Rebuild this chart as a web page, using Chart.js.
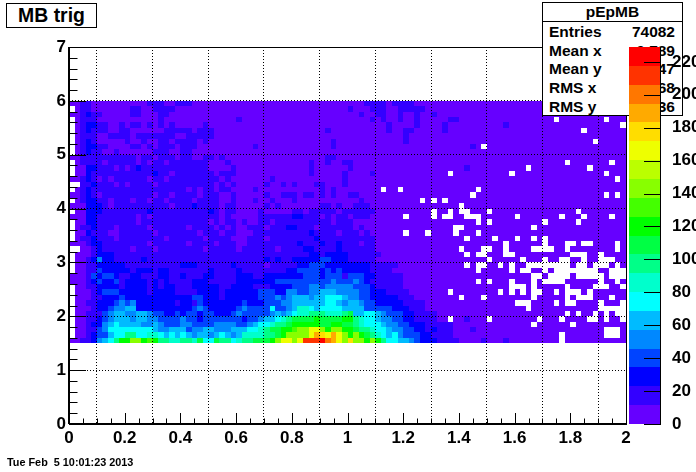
<!DOCTYPE html>
<html lang="en">
<head>
<meta charset="UTF-8" />
<title>pEpMB</title>
<script src="https://cdn.jsdelivr.net/npm/chart.js"></script>
<style>
  html, body { margin: 0; background: #fff; }
  body { width: 696px; height: 472px; position: relative; overflow: hidden; font: bold 15.5px "Liberation Sans", sans-serif; color: #000; }
  canvas { position: absolute; top: 0; }
  .box { position: absolute; background: #fff; border: 1px solid #000; box-sizing: border-box; }
  #title { left: 6px; top: 3px; width: 91px; height: 25px; text-align: center; font-size: 19.4px; line-height: 23px; }
  #stats { left: 542px; top: 2px; width: 141px; height: 114px; }
  #stats .head { text-align: center; height: 18px; line-height: 18px; border-bottom: 1px solid #000; }
  #stats .row { position: absolute; left: 6px; right: 7px; height: 18px; line-height: 18px; display: flex; justify-content: space-between; }
  #stamp { position: absolute; left: 7px; top: 456px; font-size: 10.85px; line-height: 13px; white-space: pre; }
</style>
</head>
<body>
<canvas id="mainChart" width="696" height="472" style="left:0"></canvas>
<div class="box" id="title">MB trig</div>
<div class="box" id="stats">
  <div class="head">pEpMB</div>
  <div class="row" style="top:20px"><span>Entries</span><span>74082</span></div>
  <div class="row" style="top:39px"><span>Mean x</span><span>0.789</span></div>
  <div class="row" style="top:57px"><span>Mean y</span><span>2.747</span></div>
  <div class="row" style="top:76px"><span>RMS x</span><span>0.468</span></div>
  <div class="row" style="top:95px"><span>RMS y</span><span>0.936</span></div>
</div>
<div id="stamp">Tue Feb  5 10:01:23 2013</div>
<canvas id="paletteChart" width="67" height="472" style="left:629px"></canvas>

<script>
// colour level of each bin, bottom row (y 1.5-1.6) first, ten bins per group
// 0-9,a-j index levelColors, a row that stops early is level 0 for the rest
const rowLevels = [
  "001124568a accaba8877 8879669886 788999acee ceiiijhgec fccaca8665 5432221111 0000100010",
  "0001233566 8866776565 6545545654 57777889ac cccegfegec aca9876564 3332211110",
  "0001134666 6666654455 5344554445 55667899aa bcceecacca a988766544 3322121110 001",
  "0001224565 5554454333 4433334444 3345667889 aaaaa99aa9 9876665443 3222111110",
  "0001123455 5455443333 4332333333 3233455678 9999a9999a a876654433 2211110000 01",
  "0001113455 4455433223 2332332223 4333334545 6778887778 9556654333 221111",
  "0000122344 5522222222 2234322222 3433336334 5776566665 5553333322 2111",
  "0001122234 3422222221 2213222222 2322233344 5555556654 5543322222 1111",
  "0000112223 2222222222 2233222122 2222333434 5554556665 4433222221 11",
  "0000123332 2222122221 1112222122 2222333224 4334455544 4433222111 1",
  "0001122221 2222121221 1122222112 2221112222 3334434444 4333211111",
  "0001232231 2222121211 1122211111 2222222333 3333333433 3432111111",
  "0001323321 1221112211 2111221111 2221122222 2233323331 3332211111",
  "0001132222 2122212211 1111121111 2111111112 2333323232 2222111100",
  "0001122222 1111111111 2221111112 1111101111 1223332222 222211111",
  "0001242211 1112111111 1111111111 1111121211 2222233222 11111",
  "0000122211 1111111111 1111111111 1111111111 1112212222 111111",
  "0000121111 1011101111 1111011111 0111111011 1122111121 11111",
  "0001221111 1111011111 1011110111 0011111111 1211121121 11011",
  "0011211101 1111111011 1111011110 0011101111 1111211111 11111",
  "0002111001 1111101111 1110111011 0001111111 1112111101 1101",
  "0011211101 1111011111 1011110101 0011101112 2111011111 101",
  "0002211111 1101111111 1111101011 0100110111 1111111011 1",
  "0002211111 1101011111 1111111010 0000111111 2211101011 0111",
  "0002221111 1111211111 1111121011 0000100000 1101111101 11111",
  "0002221011 1111111101 1121111011 0000010100 0000011010 0111",
  "0012211011 1011011011 1101111001 0001001000 1000000000 001",
  "0012101111 1111101101 1110111001 0000010011 1011010100 11",
  "0012111111 1111111111 1010110110 0001000000 0000010100",
  "0011211101 0111101111 1111110101 0000010010 1000110001",
  "0012101011 1111011011 1111111010 0000001000 0000000001",
  "0002111111 1111121101 1111110111 0000000000 0001000001 00001",
  "0002211101 0121111111 1111100001 0000000000 0001000000 1000000000 0000000000 01",
  "0011110111 1101011011 1111100010 0000000000 0001001001 1",
  "0011111111 1101101110 1100110100 0000000000 0000001100",
  "0012110010 0000011100 1100000000",
  "0012211000 0110101110 1110000000 0001000000 0000000100 0000000000 0000000000 001",
  "0012100000 1001001101 1110100000 0000000000 0000000100 0000000000 1",
  "0011100111 1011111110 0111110000 0000000000 0000000000 0000000000 1",
  "0012111001 1000000111 1101110000 0000000000 0000001000 0000000100 1100000100",
  "0012211001 0110101010 0000100000 0000000000 0000000000 0000000100 0010000100 000000001",
  "0011100000 0000001000 0000000000 1000000000 0000000000 0000101001 0010000011",
  "0012110000 0110001100 0000000000 0000000000 0000000000 0010011001 0010010000",
  "0011000000 0110011110 0000000000 0000000000 0000000000 1000111001 1111",
  "0011000000 0000111001 1100000000 0000000000 0000000000 0001111011 11"
];

// bins with no entries, listed per row (same row order)
const emptyBins = [
  [88],
  [0, 88, 96, 97, 98],
  [0, 96, 97, 98],
  [0, 83, 90],
  [0, 68, 75, 84, 88, 93, 94, 96, 99],
  [0, 89, 91, 94, 96, 98, 99],
  [0, 82, 95, 96, 97, 98, 99],
  [0, 80, 81, 82, 87, 89, 90, 95, 99],
  [0, 70, 74, 83, 89, 91, 92, 93, 97],
  [0, 68, 77, 79, 81, 83, 84, 87, 89, 90, 91, 93],
  [0, 79, 80, 81, 83, 89, 94, 95, 96, 99],
  [73, 75, 79, 83, 85, 86, 87, 88, 95, 98],
  [83, 84, 86, 87, 88, 89, 91, 92, 93, 94, 95, 97, 98, 99],
  [0, 73, 79, 81, 82, 85, 87, 88, 89, 90, 91, 92, 93, 94, 97, 98, 99],
  [0, 71, 73, 74, 77, 79, 82, 83, 84, 85, 86, 87, 88, 89, 91, 92, 94, 95, 96, 98],
  [0, 75, 81, 85, 88, 89, 92, 95, 96, 97],
  [0, 71, 73, 74, 78, 79, 90, 91, 92, 95],
  [0, 1, 70, 74, 75, 78, 83, 84, 85, 86, 89, 98],
  [78, 85, 89, 90, 92, 93, 98],
  [0, 71, 76, 80, 83, 85],
  [0, 60, 64, 69, 73],
  [0, 69, 70, 83],
  [0, 73, 75, 85, 91],
  [60, 65, 67, 68, 71, 72, 73, 80, 88, 92, 97],
  [0, 65, 68, 70, 71, 75, 91],
  [70],
  [0, 63, 65, 67],
  [72, 96, 98],
  [0, 56, 59, 73],
  [0, 1],
  [98],
  [0, 68, 79, 96],
  [0, 82, 93],
  [0, 89, 97],
  [],
  [0],
  [0, 74],
  [0, 94],
  [0],
  [0, 92],
  [0, 99],
  [0, 87, 96],
  [],
  [0],
  []
];

const levelColors = [
  "#6600ff", "#3300ff", "#0000ff", "#0044ff", "#0088ff", "#00bbff", "#00ffff", "#00ffcc", "#00ff88", "#00ff44",
  "#00ff00", "#44ff00", "#88ff00", "#bbff00", "#eeff00", "#ffdd00", "#ffaa00", "#ff7700", "#ff3300", "#ff0000"
];
const levelCodes = "0123456789abcdefghij";

const xTickLabels = ["0", "0.2", "0.4", "0.6", "0.8", "1", "1.2", "1.4", "1.6", "1.8", "2"];
const yTickLabels = ["0", "1", "2", "3", "4", "5", "6", "7"];
const zTickLabels = ["0", "20", "40", "60", "80", "100", "120", "140", "160", "180", "200", "220"];
const zMax = 229;

const axisFont = { family: "'Liberation Sans', sans-serif", size: 17, weight: "bold" };

// build one bar dataset per colour level, each bin a floating bar
const binsByLevel = levelColors.map(() => []);
rowLevels.forEach((row, r) => {
  const cells = row.replace(/ /g, "");
  for (let c = 0; c < 100; c++) {
    if (emptyBins[r].includes(c)) continue;
    const level = c < cells.length ? levelCodes.indexOf(cells[c]) : 0;
    binsByLevel[level].push({ x: (c * 2 + 1) / 100, y: [(15 + r) / 10, (16 + r) / 10] });
  }
});

// cells should sit on whole pixels, otherwise seams show between them
// the tiny nudge keeps edges that land on .5 from rounding two ways
const snap = v => Math.round(v + 1e-6);
const snapBars = {
  id: "snapBars",
  afterDatasetsUpdate(chart) {
    chart.getSortedVisibleDatasetMetas().forEach(meta => {
      meta.data.forEach(el => {
        const left = snap(el.x - el.width / 2);
        const right = snap(el.x + el.width / 2);
        const top = snap(el.y);
        const bottom = snap(el.base);
        el.x = (left + right) / 2;
        el.width = right - left;
        el.y = top;
        el.base = bottom;
        el.height = bottom - top;
      });
    });
  }
};

// ROOT style frame with tick marks pointing inward
const frameTicks = {
  id: "frameTicks",
  afterDraw(chart) {
    const { ctx, chartArea: area, scales } = chart;
    const line = (x1, y1, x2, y2) => {
      ctx.beginPath();
      ctx.moveTo(x1, y1);
      ctx.lineTo(x2, y2);
      ctx.stroke();
    };
    ctx.save();
    ctx.strokeStyle = "#000";
    ctx.lineWidth = 1;
    ctx.strokeRect(area.left + 0.5, area.top + 0.5, area.width, area.height);
    ctx.lineWidth = 2;
    line(area.left, area.bottom, area.right + 1, area.bottom);
    line(area.left, area.top, area.left, area.bottom);
    ctx.lineWidth = 1;
    for (let i = 0; i <= 40; i++) {
      const x = Math.round(scales.x.getPixelForValue(i / 20)) + 0.5;
      line(x, area.bottom, x, area.bottom - (i % 4 === 0 ? 11 : 5.5));
    }
    for (let i = 0; i <= 35; i++) {
      const y = Math.round(scales.y.getPixelForValue(i / 5)) + 0.5;
      line(area.left, y, area.left + (i % 5 === 0 ? 17 : 8.5), y);
    }
    ctx.restore();
  }
};

const paletteTicks = {
  id: "paletteTicks",
  afterDraw(chart) {
    const { ctx, chartArea: area, scales } = chart;
    ctx.save();
    ctx.strokeStyle = "#000";
    ctx.lineWidth = 1;
    ctx.beginPath();
    ctx.moveTo(area.right - 0.5, area.top);
    ctx.lineTo(area.right - 0.5, area.bottom);
    zTickLabels.forEach(label => {
      const y = Math.round(scales.y.getPixelForValue(Number(label))) + 0.5;
      ctx.moveTo(area.right, y);
      ctx.lineTo(area.right - 17, y);
    });
    ctx.stroke();
    ctx.restore();
  }
};

new Chart(document.getElementById("mainChart"), {
  type: "bar",
  data: {
    datasets: binsByLevel.map((bins, level) => ({
      data: bins,
      backgroundColor: levelColors[level],
      borderWidth: 0,
      inflateAmount: 0,
      grouped: false,
      barPercentage: 1,
      categoryPercentage: 1
    }))
  },
  options: {
    responsive: false,
    animation: false,
    events: [],
    layout: { padding: { top: 47, right: 70 } },
    plugins: { legend: { display: false }, tooltip: { enabled: false } },
    scales: {
      x: {
        type: "linear",
        offset: false,
        min: 0,
        max: 2,
        grid: { z: 1, color: "#000", lineWidth: 1, drawTicks: false },
        border: { display: false, dash: [1, 2] },
        ticks: {
          stepSize: 0.2,
          autoSkip: false,
          maxRotation: 0,
          padding: 4,
          color: "#000",
          font: axisFont,
          callback: (value, i) => xTickLabels[i]
        },
        afterFit(scale) {
          scale.height = 48;
          scale.paddingLeft = 0;
          scale.paddingRight = 0;
        }
      },
      y: {
        min: 0,
        max: 7,
        grid: { z: 1, color: "#000", lineWidth: 1, drawTicks: false },
        border: { display: false, dash: [1, 2] },
        ticks: {
          stepSize: 1,
          padding: 3,
          color: "#000",
          font: axisFont,
          callback: (value, i) => yTickLabels[i]
        },
        afterFit(scale) {
          scale.width = 69;
          scale.paddingTop = 0;
          scale.paddingBottom = 0;
        }
      }
    }
  },
  plugins: [snapBars, frameTicks]
});

// colour scale on its own small canvas, it sits above the stats box
new Chart(document.getElementById("paletteChart"), {
  type: "bar",
  data: {
    labels: [""],
    datasets: levelColors.map((color, level) => ({
      data: [[level * zMax / 20, (level + 1) * zMax / 20]],
      backgroundColor: color,
      borderWidth: 0,
      inflateAmount: 0,
      grouped: false,
      barPercentage: 1,
      categoryPercentage: 1
    }))
  },
  options: {
    responsive: false,
    animation: false,
    events: [],
    layout: { padding: { top: 47, bottom: 48 } },
    plugins: { legend: { display: false }, tooltip: { enabled: false } },
    scales: {
      x: { display: false },
      y: {
        position: "right",
        min: 0,
        max: zMax,
        grid: { display: false },
        border: { display: false },
        afterBuildTicks(scale) {
          // keep only the round values, max itself gets no label
          scale.ticks = zTickLabels.map(label => ({ value: Number(label) }));
        },
        ticks: {
          padding: 3,
          color: "#000",
          font: axisFont,
          callback: (value, i) => zTickLabels[i]
        },
        afterFit(scale) {
          scale.width = 35;
          scale.paddingTop = 0;
          scale.paddingBottom = 0;
        }
      }
    }
  },
  plugins: [snapBars, paletteTicks]
});
</script>
</body>
</html>
